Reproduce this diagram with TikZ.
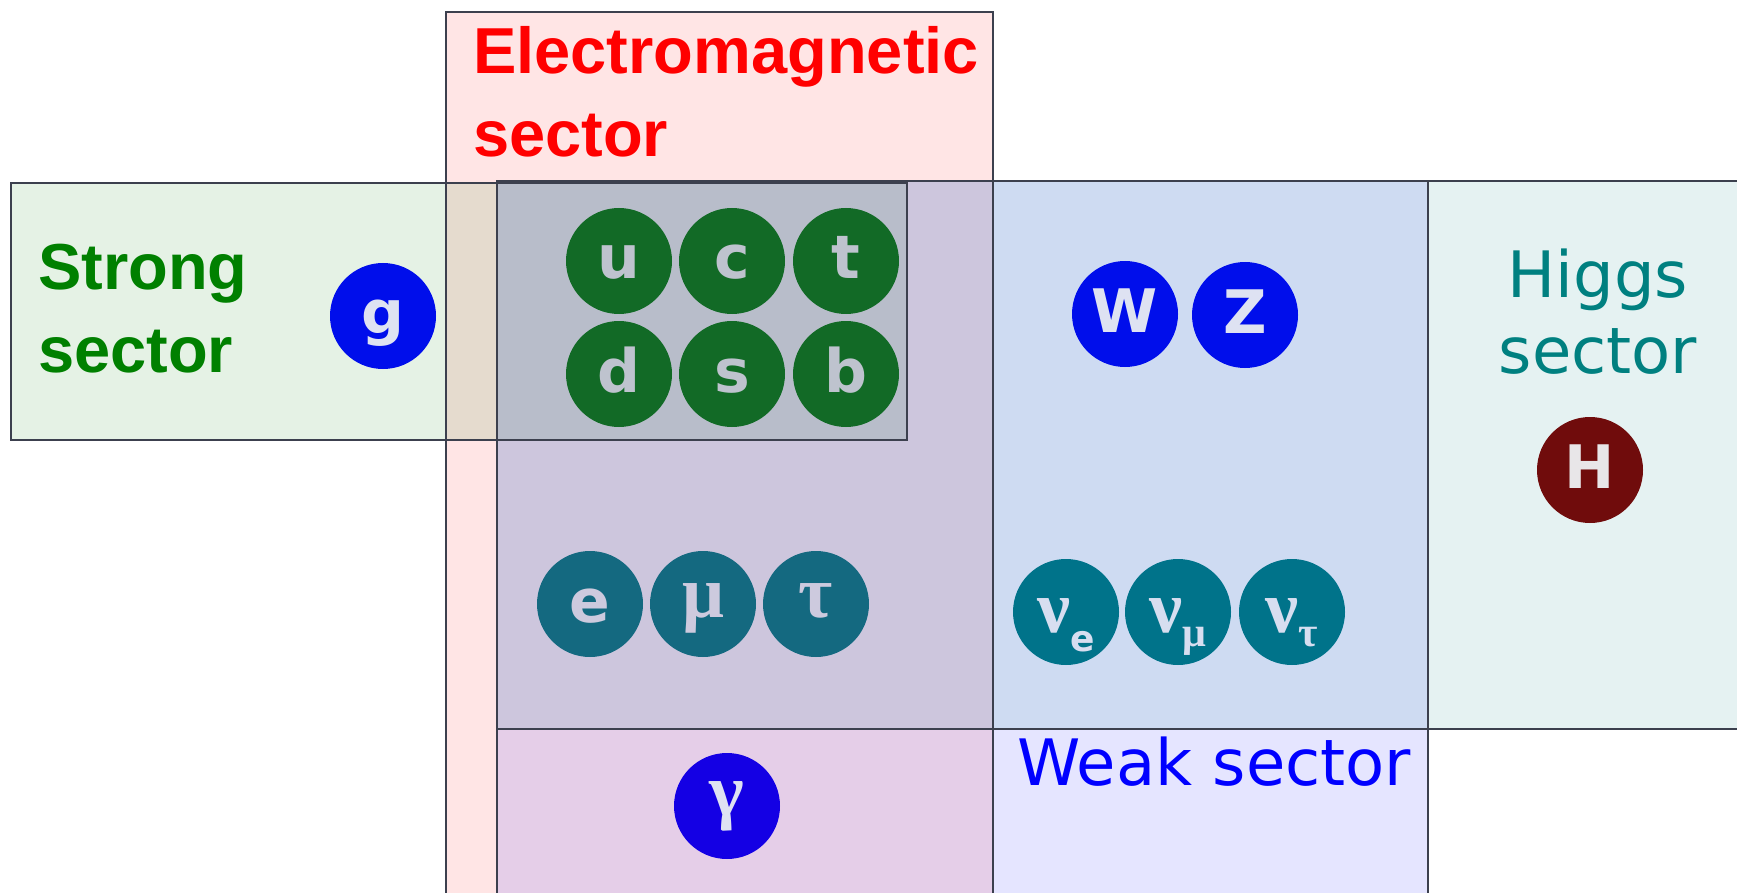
\documentclass[tikz,border=0pt]{standalone}
\usepackage{fontspec}
\setmainfont{Liberation Sans}
\newfontfamily\djv{DejaVu Sans}
\newfontfamily\grk{Liberation Serif}
\definecolor{quarkc}{RGB}{18,106,38}
\definecolor{bosonc}{RGB}{0,14,235}
\definecolor{leptonc}{RGB}{20,105,128}
\definecolor{neutrinoc}{RGB}{0,115,138}
\definecolor{photonc}{RGB}{20,0,228}
\definecolor{higgsc}{RGB}{112,12,12}
\definecolor{qtext}{RGB}{190,195,206}
\definecolor{btext}{RGB}{222,226,242}
\definecolor{ltext}{RGB}{205,202,222}
\definecolor{ntext}{RGB}{215,222,240}
\definecolor{htext}{RGB}{232,230,232}
\definecolor{linec}{RGB}{60,64,78}
\definecolor{emred}{RGB}{255,0,0}
\definecolor{stronggreen}{RGB}{0,128,0}
\definecolor{higgsteal}{RGB}{0,128,128}
\definecolor{weakblue}{RGB}{0,0,255}
\begin{document}
\begin{tikzpicture}[x=1pt,y=-1pt,
  boxfill/.style={fill opacity=0.1},
  boxline/.style={draw=linec, line width=1.4pt},
  roundp/.style={circle, minimum size=106pt, inner sep=0pt},
  particle/.style={roundp,
    font=\djv\fontsize{60}{60}\selectfont\bfseries, text height=40pt, text depth=4pt},
  greekp/.style={roundp, font=\grk\fontsize{74}{74}\selectfont\bfseries, text height=30pt, text depth=4pt},
  nup/.style={roundp, fill=neutrinoc, text=ntext, font=\grk\fontsize{74}{74}\selectfont\bfseries, text height=42pt, text depth=2pt},
  quark/.style={particle, fill=quarkc, text=qtext},
  lepton/.style={particle, fill=leptonc, text=ltext},
  glepton/.style={greekp, fill=leptonc, text=ltext},
  boldlabel/.style={font=\fontsize{65}{83}\selectfont\bfseries, align=left, anchor=base west, inner sep=0pt},
  thinlabel/.style={font=\djv\fontsize{64}{76}\selectfont, inner sep=0pt}]
\useasboundingbox (0,0) rectangle (1737,893);
\clip (0,0) rectangle (1737,893);
% sector fills
\fill[emred, boxfill] (446,12) rectangle (993,910);
\fill[stronggreen, boxfill] (11,183) rectangle (907,440);
\fill[weakblue, boxfill] (497,181) rectangle (1428,910);
\fill[higgsteal, boxfill] (497,181) rectangle (1760,729);
% sector outlines
\draw[boxline] (446,12) rectangle (993,910);
\draw[boxline] (11,183) rectangle (907,440);
\draw[boxline] (497,181) rectangle (1428,910);
\draw[boxline] (497,181) rectangle (1760,729);
% labels (base anchor = baseline of last line)
\node[boldlabel, text=emred] (emlabel) at (473,157) {Electromagnetic\\sector};
\node[boldlabel, text=stronggreen] (stronglabel) at (38,372) {Strong\\sector};
\node[thinlabel, text=higgsteal, align=center, anchor=base] (higgslabel) at (1598,373) {Higgs\\sector};
\node[thinlabel, text=weakblue, anchor=base west] (weaklabel) at (1017,785) {Weak sector};
% particles
\node[particle, fill=bosonc, text=btext] (g) at (383,316) {g};
\node[quark] (u) at (619,261) {u};
\node[quark] (c) at (732,261) {c};
\node[quark] (t) at (846,261) {t};
\node[quark] (d) at (619,374) {d};
\node[quark] (s) at (732,374) {s};
\node[quark] (b) at (846,374) {b};
\node[particle, fill=bosonc, text=btext] (W) at (1125,314) {W};
\node[particle, fill=bosonc, text=btext] (Z) at (1245,315) {Z};
\node[particle, fill=higgsc, text=htext] (H) at (1590,470) {H};
\node[lepton] (e) at (590,604) {e};
\node[glepton] (mu) at (703,604) {μ};
\node[glepton] (tau) at (816,604) {τ};
\node[nup] (nue) at (1066,612) {ν\raisebox{-19pt}{\djv\fontsize{36}{36}\selectfont\bfseries e}};
\node[nup] (numu) at (1178,612) {ν\raisebox{-14pt}{\fontsize{42}{42}\selectfont μ}};
\node[nup] (nutau) at (1292,612) {ν\raisebox{-14pt}{\fontsize{42}{42}\selectfont τ}};
\node[roundp, fill=photonc, text=btext, font=\grk\fontsize{74}{74}\selectfont\bfseries] (gamma) at (727,806) {γ};
\end{tikzpicture}
\end{document}
